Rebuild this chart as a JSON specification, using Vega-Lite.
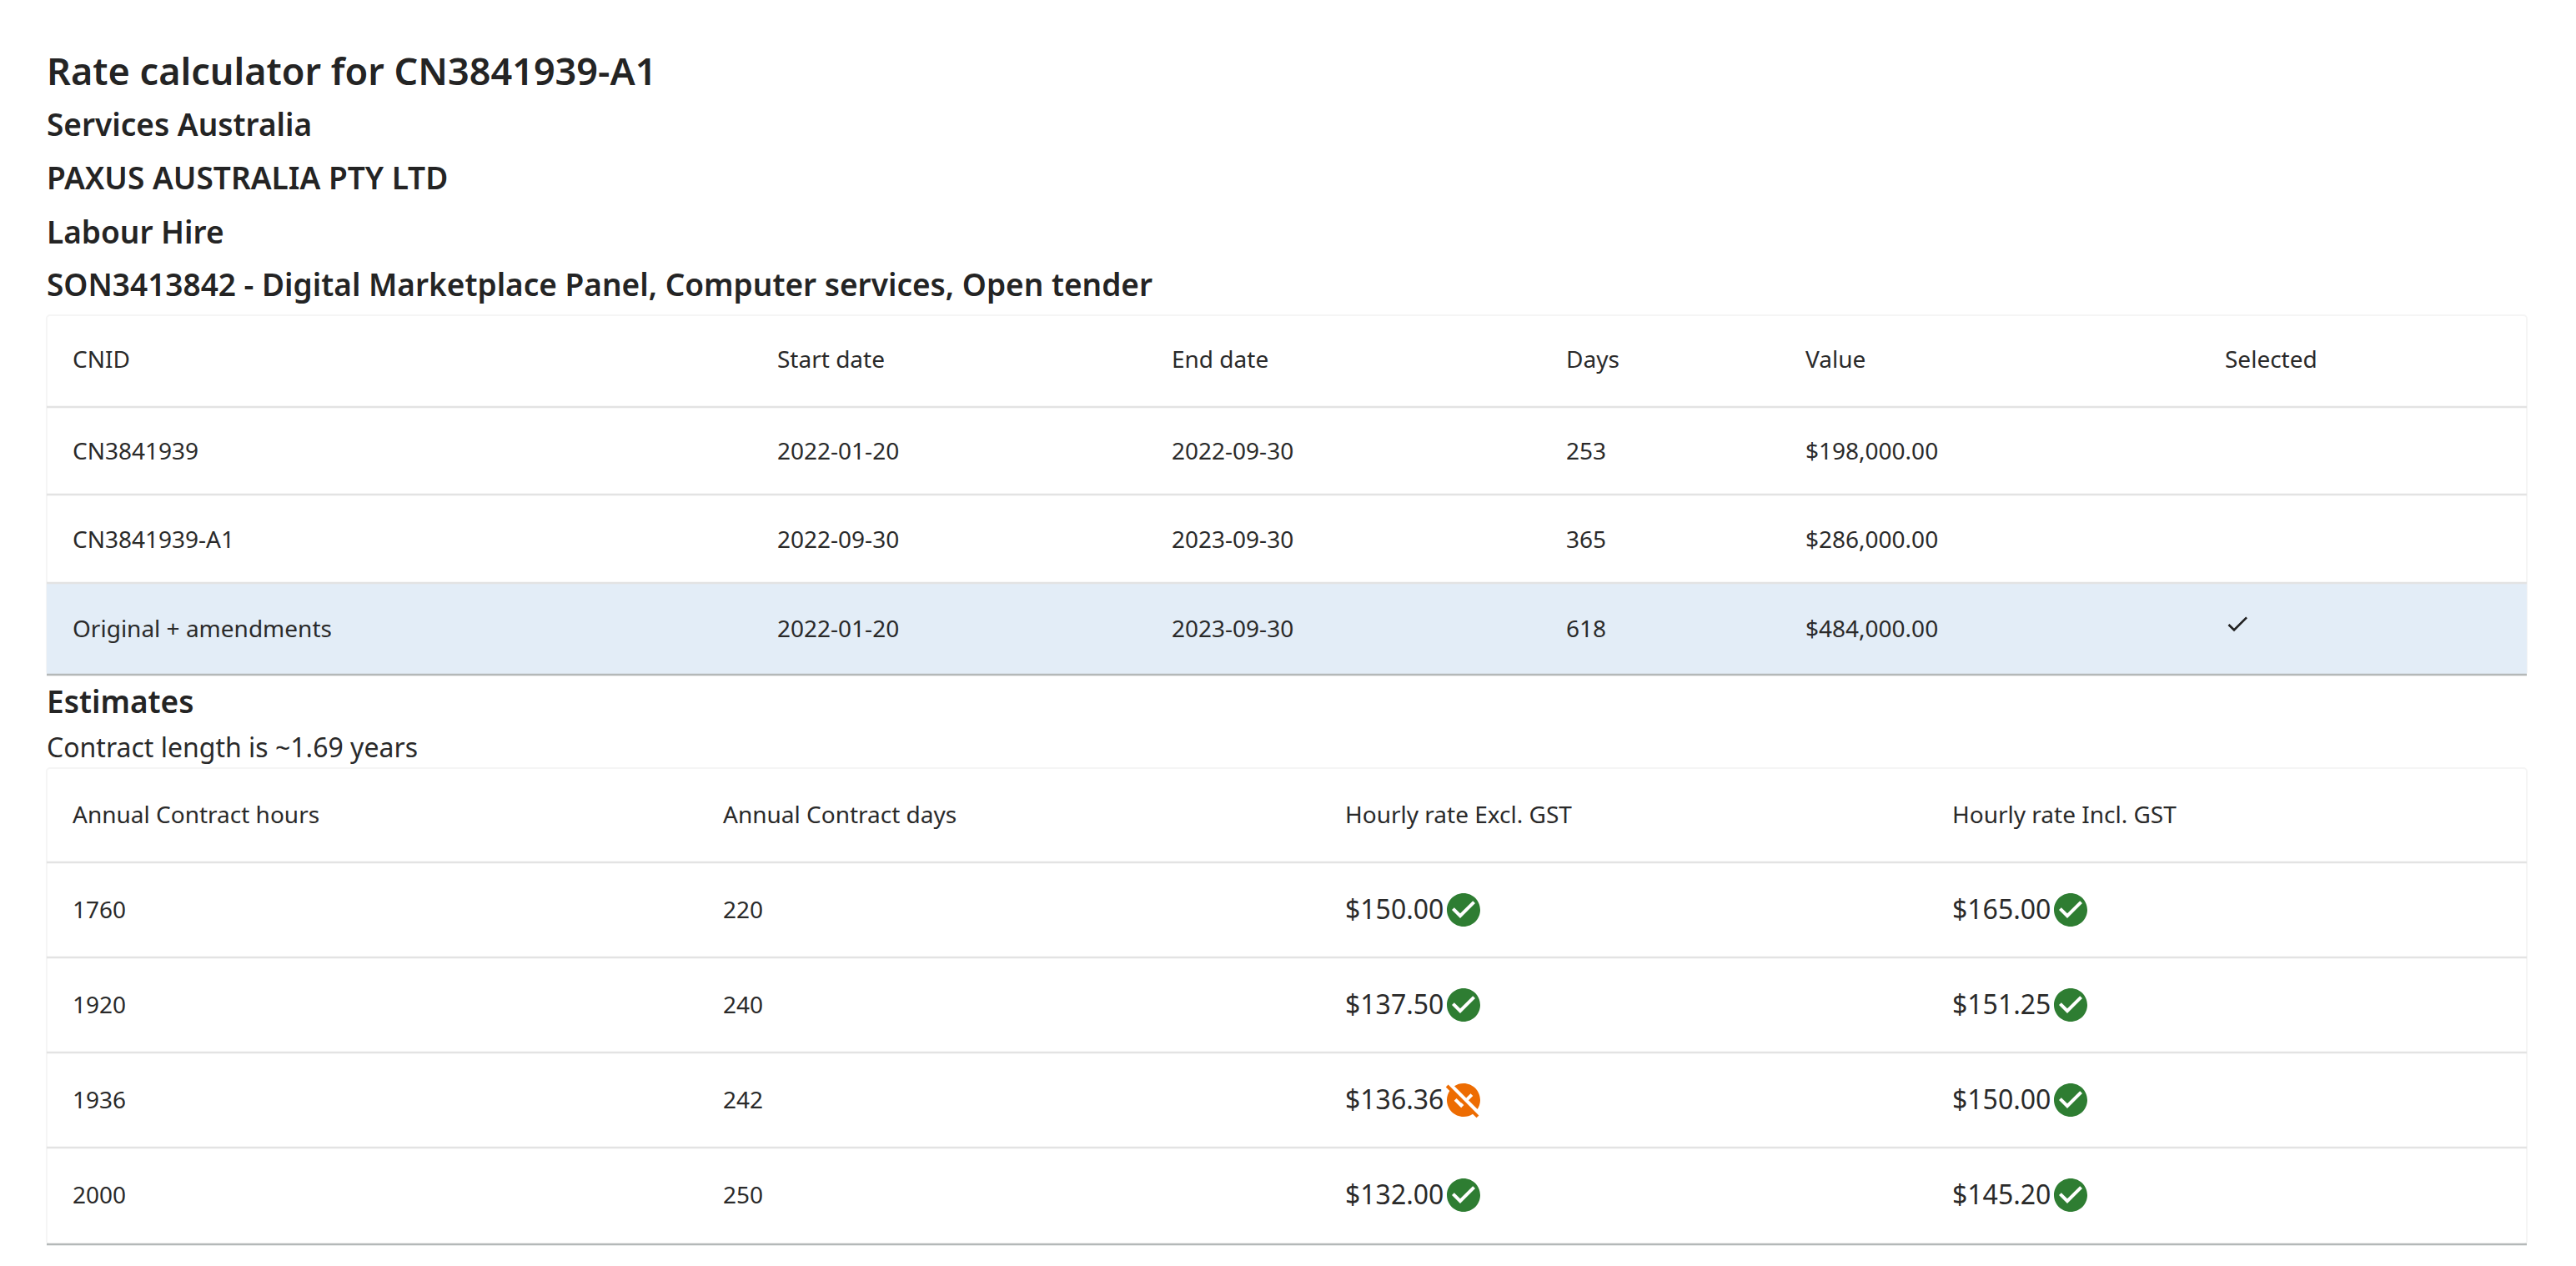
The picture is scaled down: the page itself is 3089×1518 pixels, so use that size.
{
  "$schema": "https://vega.github.io/schema/vega-lite/v6.json",
  "width": 3089,
  "height": 1518,
  "padding": 0,
  "autosize": {"type": "fit", "contains": "padding"},
  "background": "white",
  "config": {"view": {"stroke": null}, "axis": {"domain": false, "grid": false, "ticks": false, "labels": false, "title": null}},
  "datasets": {
    "cards": [{"top": 0, "bottom": 4}, {"top": 5, "bottom": 10}],
    "selected": [{"top": 3, "bottom": 4}],
    "rules": [
      {"edge": 1, "kind": "divider"}, {"edge": 2, "kind": "divider"}, {"edge": 3, "kind": "divider"},
      {"edge": 4, "kind": "bottom"},
      {"edge": 6, "kind": "divider"}, {"edge": 7, "kind": "divider"}, {"edge": 8, "kind": "divider"}, {"edge": 9, "kind": "divider"},
      {"edge": 10, "kind": "bottom"}
    ],
    "title": [{"row": 0, "label": "Rate calculator for CN3841939-A1"}],
    "headings": [
      {"row": 1, "label": "Services Australia"},
      {"row": 2, "label": "PAXUS AUSTRALIA PTY LTD"},
      {"row": 3, "label": "Labour Hire"},
      {"row": 4, "label": "SON3413842 - Digital Marketplace Panel, Computer services, Open tender"},
      {"row": 9, "label": "Estimates"}
    ],
    "note": [{"row": 10, "label": "Contract length is ~1.69 years"}],
    "cells": [
      {"row": 5, "col": 1, "label": "CNID"}, {"row": 5, "col": 2, "label": "Start date"}, {"row": 5, "col": 3, "label": "End date"}, {"row": 5, "col": 4, "label": "Days"}, {"row": 5, "col": 5, "label": "Value"}, {"row": 5, "col": 6, "label": "Selected"},
      {"row": 6, "col": 1, "label": "CN3841939"}, {"row": 6, "col": 2, "label": "2022-01-20"}, {"row": 6, "col": 3, "label": "2022-09-30"}, {"row": 6, "col": 4, "label": "253"}, {"row": 6, "col": 5, "label": "$198,000.00"},
      {"row": 7, "col": 1, "label": "CN3841939-A1"}, {"row": 7, "col": 2, "label": "2022-09-30"}, {"row": 7, "col": 3, "label": "2023-09-30"}, {"row": 7, "col": 4, "label": "365"}, {"row": 7, "col": 5, "label": "$286,000.00"},
      {"row": 8, "col": 1, "label": "Original + amendments"}, {"row": 8, "col": 2, "label": "2022-01-20"}, {"row": 8, "col": 3, "label": "2023-09-30"}, {"row": 8, "col": 4, "label": "618"}, {"row": 8, "col": 5, "label": "$484,000.00"},
      {"row": 11, "col": 1, "label": "Annual Contract hours"}, {"row": 11, "col": 7, "label": "Annual Contract days"}, {"row": 11, "col": 8, "label": "Hourly rate Excl. GST"}, {"row": 11, "col": 9, "label": "Hourly rate Incl. GST"},
      {"row": 12, "col": 1, "label": "1760"}, {"row": 12, "col": 7, "label": "220"},
      {"row": 13, "col": 1, "label": "1920"}, {"row": 13, "col": 7, "label": "240"},
      {"row": 14, "col": 1, "label": "1936"}, {"row": 14, "col": 7, "label": "242"},
      {"row": 15, "col": 1, "label": "2000"}, {"row": 15, "col": 7, "label": "250"}
    ],
    "prices": [
      {"row": 12, "col": 8, "label": "$150.00"}, {"row": 12, "col": 9, "label": "$165.00"},
      {"row": 13, "col": 8, "label": "$137.50"}, {"row": 13, "col": 9, "label": "$151.25"},
      {"row": 14, "col": 8, "label": "$136.36"}, {"row": 14, "col": 9, "label": "$150.00"},
      {"row": 15, "col": 8, "label": "$132.00"}, {"row": 15, "col": 9, "label": "$145.20"}
    ],
    "icons": [
      {"row": 12, "col": 8, "status": "ok"}, {"row": 12, "col": 9, "status": "ok"},
      {"row": 13, "col": 8, "status": "ok"}, {"row": 13, "col": 9, "status": "ok"},
      {"row": 14, "col": 8, "status": "under"}, {"row": 14, "col": 9, "status": "ok"},
      {"row": 15, "col": 8, "status": "ok"}, {"row": 15, "col": 9, "status": "ok"}
    ],
    "tick": [{"row": 8, "col": 6}]
  },
  "resolve": {"scale": {"x": "independent", "y": "independent", "color": "independent"}},
  "layer": [
    {
      "data": {"name": "cards"},
      "mark": {"type": "rect", "fill": "white", "stroke": "#f5f5f5", "strokeWidth": 2, "cornerRadius": 4},
      "encoding": {
        "x": {"datum": 0, "type": "quantitative", "axis": null, "scale": {"domain": [0, 1], "range": [56, 3030], "nice": false, "zero": false}},
        "x2": {"datum": 1},
        "y": {"field": "top", "type": "quantitative", "axis": null, "scale": {"domain": [0, 1, 2, 3, 4, 5, 6, 7, 8, 9, 10], "range": [378, 488, 593, 699, 809, 921, 1034, 1148, 1262, 1376, 1492], "nice": false, "zero": false}},
        "y2": {"field": "bottom"}
      }
    },
    {
      "data": {"name": "selected"},
      "mark": {"type": "rect", "fill": "#e3edf7"},
      "encoding": {
        "x": {"datum": 0, "type": "quantitative", "axis": null, "scale": {"domain": [0, 1], "range": [56, 3030], "nice": false, "zero": false}},
        "x2": {"datum": 1},
        "y": {"field": "top", "type": "quantitative", "axis": null, "scale": {"domain": [0, 1, 2, 3, 4, 5, 6, 7, 8, 9, 10], "range": [378, 488, 593, 699, 809, 921, 1034, 1148, 1262, 1376, 1492], "nice": false, "zero": false}},
        "y2": {"field": "bottom"}
      }
    },
    {
      "data": {"name": "rules"},
      "mark": {"type": "rule", "strokeWidth": 2.5},
      "encoding": {
        "x": {"datum": 0, "type": "quantitative", "axis": null, "scale": {"domain": [0, 1], "range": [56, 3030], "nice": false, "zero": false}},
        "x2": {"datum": 1},
        "y": {"field": "edge", "type": "quantitative", "axis": null, "scale": {"domain": [0, 1, 2, 3, 4, 5, 6, 7, 8, 9, 10], "range": [378, 488, 593, 699, 809, 921, 1034, 1148, 1262, 1376, 1492], "nice": false, "zero": false}},
        "color": {"field": "kind", "type": "nominal", "legend": null, "scale": {"domain": ["divider", "bottom"], "range": ["#e3e3e3", "#b4b8b8"]}}
      }
    },
    {
      "data": {"name": "title"},
      "mark": {"type": "text", "align": "left", "baseline": "alphabetic", "font": "Noto Sans", "fontWeight": 600, "fontSize": 45, "color": "#242424"},
      "encoding": {
        "x": {"datum": 0, "type": "quantitative", "axis": null, "scale": {"domain": [0, 1], "range": [56, 57], "nice": false, "zero": false}},
        "y": {"field": "row", "type": "quantitative", "axis": null, "scale": {"domain": [0, 1, 2, 3, 4, 5, 6, 7, 8, 9, 10, 11, 12, 13, 14, 15], "range": [102, 163, 227, 292, 355, 442, 552, 658, 764, 855, 908, 988, 1101, 1215, 1329, 1443], "nice": false, "zero": false}},
        "text": {"field": "label"}
      }
    },
    {
      "data": {"name": "headings"},
      "mark": {"type": "text", "align": "left", "baseline": "alphabetic", "font": "Noto Sans", "fontWeight": 600, "fontSize": 37, "color": "#242424"},
      "encoding": {
        "x": {"datum": 0, "type": "quantitative", "axis": null, "scale": {"domain": [0, 1], "range": [56, 57], "nice": false, "zero": false}},
        "y": {"field": "row", "type": "quantitative", "axis": null, "scale": {"domain": [0, 1, 2, 3, 4, 5, 6, 7, 8, 9, 10, 11, 12, 13, 14, 15], "range": [102, 163, 227, 292, 355, 442, 552, 658, 764, 855, 908, 988, 1101, 1215, 1329, 1443], "nice": false, "zero": false}},
        "text": {"field": "label"}
      }
    },
    {
      "data": {"name": "note"},
      "mark": {"type": "text", "align": "left", "baseline": "alphabetic", "font": "Noto Sans", "fontSize": 32, "color": "#2a2a2a"},
      "encoding": {
        "x": {"datum": 0, "type": "quantitative", "axis": null, "scale": {"domain": [0, 1], "range": [56, 57], "nice": false, "zero": false}},
        "y": {"field": "row", "type": "quantitative", "axis": null, "scale": {"domain": [0, 1, 2, 3, 4, 5, 6, 7, 8, 9, 10, 11, 12, 13, 14, 15], "range": [102, 163, 227, 292, 355, 442, 552, 658, 764, 855, 908, 988, 1101, 1215, 1329, 1443], "nice": false, "zero": false}},
        "text": {"field": "label"}
      }
    },
    {
      "data": {"name": "cells"},
      "mark": {"type": "text", "align": "left", "baseline": "alphabetic", "font": "Noto Sans", "fontSize": 28, "color": "#2a2a2a"},
      "encoding": {
        "x": {"field": "col", "type": "quantitative", "axis": null, "scale": {"domain": [1, 2, 3, 4, 5, 6, 7, 8, 9], "range": [87, 932, 1405, 1878, 2165, 2668, 867, 1613, 2341], "nice": false, "zero": false}},
        "y": {"field": "row", "type": "quantitative", "axis": null, "scale": {"domain": [0, 1, 2, 3, 4, 5, 6, 7, 8, 9, 10, 11, 12, 13, 14, 15], "range": [102, 163, 227, 292, 355, 441, 551, 657, 764, 855, 908, 987, 1101, 1215, 1329, 1443], "nice": false, "zero": false}},
        "text": {"field": "label"}
      }
    },
    {
      "data": {"name": "prices"},
      "mark": {"type": "text", "align": "left", "baseline": "alphabetic", "font": "Noto Sans", "fontSize": 32, "color": "#2a2a2a"},
      "encoding": {
        "x": {"field": "col", "type": "quantitative", "axis": null, "scale": {"domain": [8, 9], "range": [1613, 2341], "nice": false, "zero": false}},
        "y": {"field": "row", "type": "quantitative", "axis": null, "scale": {"domain": [12, 13, 14, 15], "range": [1102, 1216, 1330, 1444], "nice": false, "zero": false}},
        "text": {"field": "label"}
      }
    },
    {
      "data": {"name": "icons"},
      "mark": {"type": "point", "filled": true, "size": 2304, "opacity": 1, "strokeWidth": 0},
      "encoding": {
        "x": {"field": "col", "type": "quantitative", "axis": null, "scale": {"domain": [8, 9], "range": [1755, 2483], "nice": false, "zero": false}},
        "y": {"field": "row", "type": "quantitative", "axis": null, "scale": {"domain": [12, 13, 14, 15], "range": [1091, 1205, 1319, 1433], "nice": false, "zero": false}},
        "color": {"field": "status", "type": "nominal", "legend": null, "scale": {"domain": ["ok", "under"], "range": ["#2e7d32", "#ed6c02"]}},
        "shape": {"field": "status", "type": "nominal", "legend": null, "scale": {"domain": ["ok", "under"], "range": [
          "M0 -0.8333C-0.46 -0.8333 -0.8333 -0.46 -0.8333 0C-0.8333 0.46 -0.46 0.8333 0 0.8333C0.46 0.8333 0.8333 0.46 0.8333 0C0.8333 -0.46 0.46 -0.8333 0 -0.8333ZM-0.1667 0.4167L-0.5833 0L-0.4658 -0.1175L-0.1667 0.1808L0.4658 -0.4517L0.5833 -0.3333Z",
          "M0.7658 0.7658L-0.7658 -0.7658L-0.8842 -0.6483L-0.695 -0.4592C-0.7825 -0.3275 -0.8333 -0.17 -0.8333 0C-0.8333 0.46 -0.46 0.8333 0 0.8333C0.17 0.8333 0.3275 0.7825 0.4592 0.695L0.6483 0.8842ZM-0.1175 0.3833L-0.4708 0.03L-0.3533 -0.0875L-0.1175 0.1483L-0.1025 0.1333L0.015 0.2508ZM0.1325 -0.1033L-0.4592 -0.695C-0.3275 -0.7825 -0.17 -0.8333 0 -0.8333C0.46 -0.8333 0.8333 -0.46 0.8333 0C0.8333 0.17 0.7825 0.3275 0.695 0.4592L0.25 0.0142L0.4708 -0.2067L0.3533 -0.3242Z"
        ]}}
      }
    },
    {
      "data": {"name": "tick"},
      "mark": {"type": "point", "filled": true, "size": 1024, "opacity": 1, "strokeWidth": 0, "color": "#212121", "shape": "M-0.25 0.3475L-0.5975 0L-0.7158 0.1175L-0.25 0.5833L0.75 -0.4167L0.6325 -0.5342Z"},
      "encoding": {
        "x": {"field": "col", "type": "quantitative", "axis": null, "scale": {"domain": [5, 6], "range": [2165, 2683], "nice": false, "zero": false}},
        "y": {"field": "row", "type": "quantitative", "axis": null, "scale": {"domain": [7, 8], "range": [642, 748], "nice": false, "zero": false}}
      }
    }
  ]
}
